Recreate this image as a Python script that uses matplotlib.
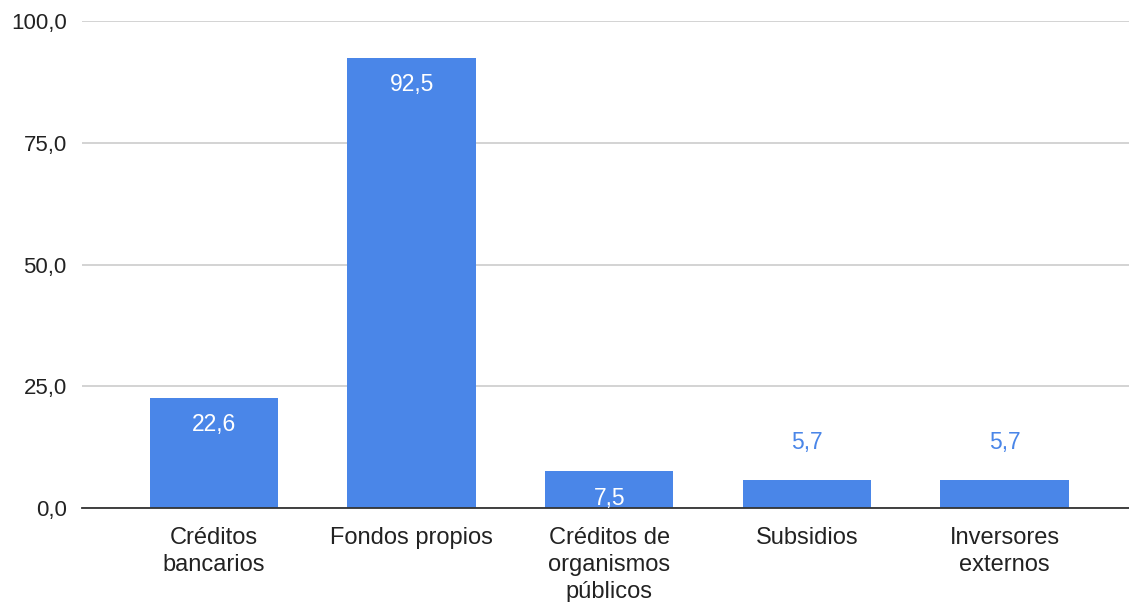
import matplotlib
matplotlib.use("Agg")
import matplotlib.pyplot as plt
from matplotlib.ticker import FuncFormatter

categories = ["Créditos\nbancarios", "Fondos propios", "Créditos de\norganismos\npúblicos",
              "Subsidios", "Inversores\nexternos"]
values = [22.6, 92.5, 7.5, 5.7, 5.7]
yticks = [0, 25, 50, 75, 100]

BLUE = "#4a86e8"
plt.rcParams["font.family"] = ["Liberation Sans", "DejaVu Sans"]
FS = 17

fig = plt.figure(figsize=(11.29, 6.02), dpi=100)
ax = fig.add_axes([82 / 1129, 1 - 508 / 602, 1 - 82 / 1129, (508 - 21) / 602])

x = list(range(len(categories)))
bars = ax.bar(x, values, width=0.65, color=BLUE, zorder=3)

ax.set_xlim(-0.668, 4.63)
ax.set_ylim(0, 100)
ax.set_yticks(yticks)
ax.yaxis.set_major_formatter(FuncFormatter(lambda v, p: f"{v:.1f}".replace(".", ",")))
ax.set_xticks(x)
ax.set_xticklabels(categories, fontsize=FS, color="#222222", linespacing=1.28)
ax.tick_params(axis="y", length=0, pad=11, labelsize=16, labelcolor="#222222")
ax.tick_params(axis="x", length=0, pad=14)

ax.grid(axis="y", color="#cccccc", linewidth=1.2, zorder=0)
for s in ["top", "right", "left"]:
    ax.spines[s].set_visible(False)
ax.spines["bottom"].set_color("#333333")
ax.spines["bottom"].set_linewidth(1.3)
ax.spines["bottom"].set_zorder(4)

for b, v in zip(bars, values):
    label = f"{v:.1f}".replace(".", ",")
    cx = b.get_x() + b.get_width() / 2
    if v >= 7:
        ax.annotate(label, (cx, v), xytext=(0, -11), textcoords="offset points",
                    ha="center", va="top", color="white", fontsize=16.5, zorder=5)
    else:
        ax.annotate(label, (cx, v), xytext=(0, 19), textcoords="offset points",
                    ha="center", va="bottom", color=BLUE, fontsize=16.5, zorder=5)

fig.savefig("out.png", dpi=100, facecolor="white")
